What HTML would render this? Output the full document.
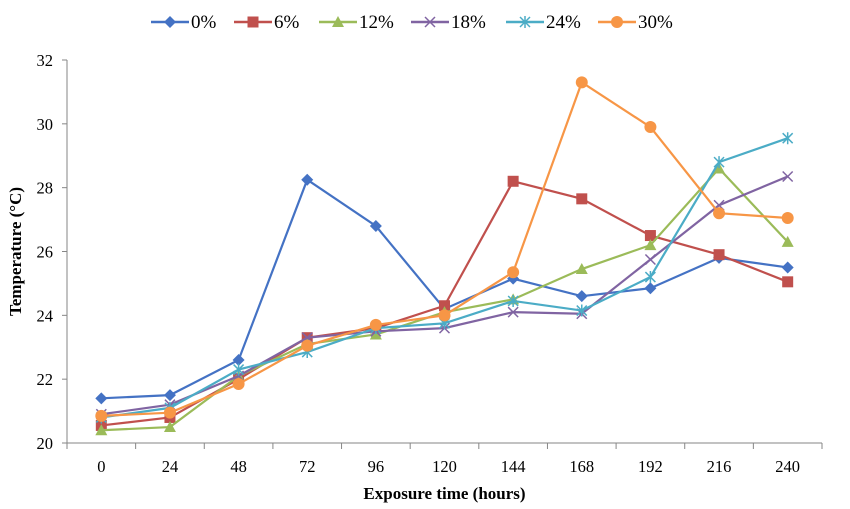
<!DOCTYPE html>
<html><head><meta charset="utf-8"><style>
body{margin:0;background:#fff;}
svg{display:block;font-family:"Liberation Serif",serif;}
</style></head><body>
<svg id="chart" width="850" height="509"></svg>
<script>
const categories=[0,24,48,72,96,120,144,168,192,216,240];
const yTicks=[20,22,24,26,28,30,32];
const seriesNames=["0%","6%","12%","18%","24%","30%"];
const s0=[21.4,21.5,22.6,28.25,26.8,24.2,25.15,24.6,24.85,25.8,25.5];
const s6=[20.55,20.8,22.0,23.3,23.6,24.3,28.2,27.65,26.5,25.9,25.05];
const s12=[20.4,20.5,22.1,23.1,23.4,24.1,24.5,25.45,26.2,28.6,26.3];
const s18=[20.9,21.2,22.1,23.3,23.5,23.6,24.1,24.05,25.75,27.45,28.35];
const s24=[20.8,21.1,22.3,22.85,23.6,23.75,24.45,24.15,25.2,28.8,29.55];
const s30=[20.85,20.95,21.85,23.05,23.7,24.0,25.35,31.3,29.9,27.2,27.05];
const seriesValues=[s0,s6,s12,s18,s24,s30];
const colors=["#4472C4","#C0504D","#9BBB59","#8064A2","#4BACC6","#F79646"];
const markers=["diamond","square","triangle","x","star","circle"];
const NS="http://www.w3.org/2000/svg";
const svg=document.getElementById('chart');
const L=67,R=822,T=60,B=443,ymin=20,ymax=32;
const bw=(R-L)/categories.length;
const xs=i=>L+bw*(i+0.5);
const ys=v=>B-(v-ymin)/(ymax-ymin)*(B-T);
function el(t,a,p){const e=document.createElementNS(NS,t);for(const k in a)e.setAttribute(k,a[k]);(p||svg).appendChild(e);return e;}
const ax=el('line',{x1:L,y1:T,x2:L,y2:B,stroke:'#868686'});


const axx=el('line',{x1:L,y1:B,x2:R,y2:B,stroke:'#868686'});


yTicks.forEach(v=>{
 const y=ys(v);
 el('line',{x1:L-5,y1:y,x2:L,y2:y,stroke:'#868686'});
 const t=el('text',{x:L-14,y:y+6,'text-anchor':'end','font-size':16.5});
 t.textContent=v;
 
 
});
for(let i=0;i<=categories.length;i++){el('line',{x1:L+bw*i,y1:B,x2:L+bw*i,y2:B+6,stroke:'#868686'});}
categories.forEach((c,i)=>{
 const t=el('text',{x:xs(i),y:B+29,'text-anchor':'middle','font-size':16.5});
 t.textContent=c;
 
 
});
const xt=el('text',{x:(L+R)/2,y:499,'text-anchor':'middle','font-size':17,'font-weight':'bold'});
xt.textContent='Exposure time (hours)';


const yt=el('text',{x:21,y:(T+B)/2,'text-anchor':'middle','font-size':17,'font-weight':'bold',transform:`rotate(-90 21 ${(T+B)/2})`});
yt.textContent='Temperature (°C)';


function marker(type,x,y,c,g){
 if(type==='diamond')el('polygon',{points:`${x},${y-6} ${x+6},${y} ${x},${y+6} ${x-6},${y}`,fill:c},g);
 else if(type==='square')el('rect',{x:x-5.5,y:y-5.5,width:11,height:11,fill:c},g);
 else if(type==='triangle')el('polygon',{points:`${x},${y-6} ${x+6},${y+5} ${x-6},${y+5}`,fill:c},g);
 else if(type==='circle')el('circle',{cx:x,cy:y,r:6,fill:c},g);
 else if(type==='x'){el('path',{d:`M${x-5},${y-5}L${x+5},${y+5}M${x-5},${y+5}L${x+5},${y-5}`,stroke:c,'stroke-width':1.5},g);}
 else {el('path',{d:`M${x-5},${y-5}L${x+5},${y+5}M${x-5},${y+5}L${x+5},${y-5}M${x},${y-6}L${x},${y+6}`,stroke:c,'stroke-width':1.5},g);}
}
seriesValues.forEach((vals,si)=>{
 const g=el('g',{});
 
 
 el('polyline',{points:vals.map((v,i)=>xs(i)+','+ys(v)).join(' '),fill:'none',stroke:colors[si],'stroke-width':2.2},g);
 vals.forEach((v,i)=>marker(markers[si],xs(i),ys(v),colors[si],g));
});
const legX=[170,253,338,430,525,617];
seriesNames.forEach((n,i)=>{
 const g=el('g',{});
 
 
 el('line',{x1:legX[i]-19,y1:22,x2:legX[i]+19,y2:22,stroke:colors[i],'stroke-width':2.5},g);
 marker(markers[i],legX[i],22,colors[i],g);
 const t=el('text',{x:legX[i]+21,y:28,'font-size':19},g);
 t.textContent=n;
});
</script>
</body></html>
